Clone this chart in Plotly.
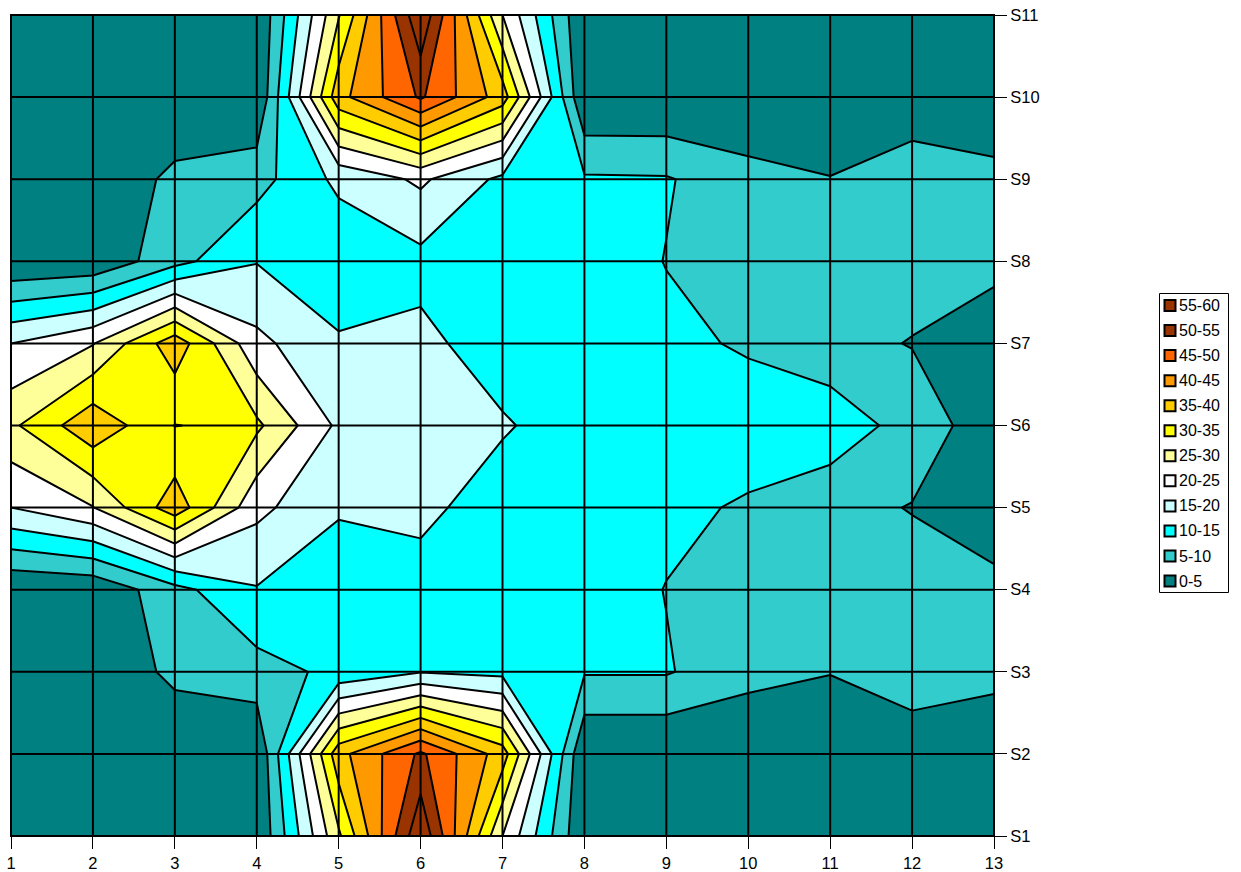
import plotly.graph_objects as go

x_vals = list(range(1, 14))
y_vals = list(range(1, 12))
y_labels = ["S1", "S2", "S3", "S4", "S5", "S6", "S7", "S8", "S9", "S10", "S11"]

S1 = [0.1, 0.1, 0.1, 0.1, 29.1, 59.3, 25.0, 0.2, 0.1, 0.1, 0.1, 0.1, 0.1]
S2 = [0.1, 0.1, 0.1, 0.1, 38.3, 50.9, 37.5, 0.1, 0.1, 0.1, 0.1, 0.1, 0.1]
S3 = [0.1, 0.2, 6.4, 8.0, 11.2, 14.7, 13.6, 10.4, 10.4, 6.7, 5.2, 9.4, 6.8]
S4 = [0.3, 0.9, 8.3, 14.7, 11.0, 13.0, 13.0, 13.0, 9.85, 8.0, 7.0, 7.0, 5.9]
S5 = [20.0, 24.8, 38.0, 21.3, 15.7, 16.2, 12.6, 12.0, 11.2, 9.4, 6.4, 4.8, 3.0]
S6 = [29.0, 38.7, 29.9, 31.0, 19.0, 17.0, 15.5, 12.5, 12.5, 12.7, 13.3, 7.8, 2.2]
S7 = [20.0, 24.7, 38.0, 21.3, 15.7, 16.2, 12.6, 12.0, 11.2, 9.4, 6.4, 4.8, 3.0]
S8 = [0.3, 0.9, 8.3, 14.8, 11.0, 13.5, 13.0, 13.0, 9.85, 8.0, 7.0, 7.0, 5.9]
S9 = [0.1, 0.2, 6.4, 8.1, 16.2, 20.9, 13.8, 10.6, 10.4, 6.9, 5.2, 9.3, 6.8]
S10 = [0.1, 0.1, 0.1, 0.1, 38.3, 50.7, 37.5, 0.1, 0.1, 0.1, 0.1, 0.1, 0.1]
S11 = [0.1, 0.1, 0.1, 0.1, 29.6, 59.3, 25.0, 0.2, 0.1, 0.1, 0.1, 0.1, 0.1]
z_rows = [S1, S2, S3, S4, S5, S6, S7, S8, S9, S10, S11]

band_labels = ["0-5", "5-10", "10-15", "15-20", "20-25", "25-30",
               "30-35", "35-40", "40-45", "45-50", "50-55", "55-60"]
band_colors = ["#008080", "#33CCCC", "#00FFFF", "#CCFFFF", "#FFFFFF", "#FFFF99",
               "#FFFF00", "#FFCC00", "#FF9900", "#FF6600", "#993300", "#993300"]

n = len(band_colors)
colorscale = []
for i, c in enumerate(band_colors):
    colorscale.append([i / n, c])
    colorscale.append([(i + 1) / n, c])

fig = go.Figure()
fig.add_trace(go.Contour(
    x=x_vals, y=y_vals, z=z_rows,
    zmin=0, zmax=60, colorscale=colorscale, showscale=False,
    autocontour=False,
    contours=dict(start=0, end=60, size=5, coloring="fill", showlines=True),
    line=dict(color="black", width=2, smoothing=0),
    showlegend=False, hoverinfo="skip",
))

shapes = []
for v in x_vals:
    shapes.append(dict(type="line", xref="x", yref="paper", x0=v, x1=v, y0=0, y1=1,
                       layer="above", line=dict(color="black", width=2)))
for v in y_vals:
    shapes.append(dict(type="line", xref="paper", yref="y", x0=0, x1=1, y0=v, y1=v,
                       layer="above", line=dict(color="black", width=2)))

# hand-built legend, placed in page pixels converted to paper fractions
PLOT_L, PLOT_R, PLOT_T, PLOT_B = 11, 994, 15, 836
def px(v):
    return (v - PLOT_L) / (PLOT_R - PLOT_L)
def py(v):
    return 1 - (v - PLOT_T) / (PLOT_B - PLOT_T)

shapes.append(dict(type="rect", xref="paper", yref="paper",
                   x0=px(1159.5), x1=px(1228.5), y0=py(592.5), y1=py(293.5),
                   fillcolor="white", line=dict(color="black", width=1), layer="above"))
annotations = []
font_family = "Liberation Sans, Arial, sans-serif"
for i, (lab, col) in enumerate(zip(reversed(band_labels), reversed(band_colors))):
    cy = 305.5 + i * 25.05
    shapes.append(dict(type="rect", xref="paper", yref="paper",
                       x0=px(1164.5), x1=px(1175.5), y0=py(cy + 5.5), y1=py(cy - 5.5),
                       fillcolor=col, line=dict(color="black", width=2), layer="above"))
    annotations.append(dict(x=px(1180), y=py(cy), xref="paper", yref="paper", text=lab,
                            showarrow=False, xanchor="left", yanchor="middle", xshift=-1,
                            font=dict(family=font_family, size=16, color="black"),
                            borderpad=0, borderwidth=0))

fig.update_layout(
    width=1241, height=872, autosize=False,
    margin=dict(l=11, r=247, t=15, b=36, autoexpand=False),
    paper_bgcolor="white", plot_bgcolor="white",
    font=dict(family=font_family, size=16.5, color="black"),
    shapes=shapes, annotations=annotations, showlegend=False,
    xaxis=dict(range=[1, 13], tickmode="array", tickvals=x_vals, ticktext=[str(v) for v in x_vals],
               ticks="outside", ticklen=12, tickcolor="black", tickwidth=1, showgrid=False,
               ticklabeloverflow="allow",
               zeroline=False, showline=True, linecolor="black", linewidth=1, mirror=True),
    yaxis=dict(range=[1, 11], side="right", tickmode="array", tickvals=y_vals, ticktext=y_labels,
               ticks="outside", ticklen=12, tickcolor="black", tickwidth=1, showgrid=False,
               ticklabeloverflow="allow",
               zeroline=False, showline=True, linecolor="black", linewidth=1, mirror=True),
)

# remove the page's default 8 px body margin so the figure fills the window exactly
fig.write_html("out.html", config={"displayModeBar": False},
               post_script="document.body.style.margin='0';document.body.style.overflow='hidden';")
